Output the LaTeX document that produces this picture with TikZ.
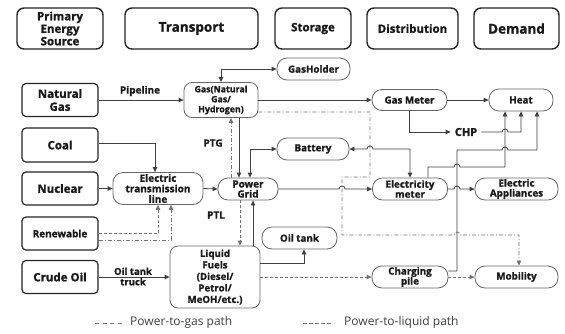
\documentclass[tikz,border=0pt]{standalone}
\usepackage{fontspec}
\setmainfont{Open Sans}[BoldFeatures={FakeBold=1.2}]
\usetikzlibrary{arrows.meta,calc}
\begin{document}
\begin{tikzpicture}[x=1pt,y=-1pt,
  >={Triangle[length=5pt,width=4.5pt]},
  every node/.style={font=\bfseries, text=black!90, align=center, inner sep=0pt},
  hdr/.style={draw=black!85, line width=1.4pt, rounded corners=7pt, minimum height=41pt, font=\bfseries\fontsize{11.5}{12.5}\selectfont},
  src/.style={draw=black!85, line width=1.2pt, rounded corners=4pt, minimum width=76pt, minimum height=33pt, font=\bfseries\fontsize{11.5}{13}\selectfont},
  pill/.style={draw=black!60, line width=0.8pt, rounded corners=10pt, minimum height=22pt, font=\bfseries\fontsize{9.8}{10}\selectfont},
  bigpill/.style={draw=black!60, line width=0.8pt, rounded corners=8pt},
  conn/.style={draw=black!75, line width=0.8pt},
  ptl/.style={draw=black!55, line width=0.8pt, dash pattern=on 3pt off 2pt},
  ptg/.style={draw=black!55, line width=0.8pt, dash pattern=on 4pt off 2pt on 1pt off 2pt},
  lbl/.style={font=\bfseries\fontsize{10}{11}\selectfont}
]
\fill[white] (0,0) rectangle (565,333);
\useasboundingbox (0,0) rectangle (565,333);

% headers
\node[hdr, minimum width=86pt] (h1) at (60,28.5) {Primary\\Energy\\Source};
\node[hdr, minimum width=133pt, font=\bfseries\fontsize{13.5}{14}\selectfont] (h2) at (191.5,28.5) {Transport};
\node[hdr, minimum width=76pt] (h3) at (313,28.5) {Storage};
\node[hdr, minimum width=91pt] (h4) at (412.5,28.5) {Distribution};
\node[hdr, minimum width=85pt, font=\bfseries\fontsize{13.5}{14}\selectfont] (h5) at (516.5,28.5) {Demand};

% sources
\node[src] (ng) at (60,100) {Natural\\Gas};
\node[src, minimum height=34pt] (coal) at (60,145) {Coal};
\node[src] (nuc) at (60,188.5) {Nuclear};
\node[src, font=\bfseries\fontsize{10}{11}\selectfont] (ren) at (60,233.5) {Renewable};
\node[src] (crude) at (60,277) {Crude Oil};

% middle nodes
\node[bigpill, minimum width=74pt, minimum height=35pt, font=\bfseries\fontsize{8.8}{10}\selectfont] (gas) at (221,100) {Gas(Natural\\Gas/\\Hydrogen)};
\node[pill, minimum width=73pt] (gh) at (313.5,69) {GasHolder};
\node[pill, minimum width=75pt, minimum height=21pt] (gm) at (409.5,100) {Gas Meter};
\node[pill, minimum width=64pt] (heat) at (521,100) {Heat};
\node[lbl, font=\bfseries\fontsize{11}{12}\selectfont, inner xsep=4pt] (chp) at (466,132) {CHP};
\node[pill, minimum width=72pt] (bat) at (313,149) {Battery};
\node[bigpill, minimum width=90pt, minimum height=32pt, rounded corners=10pt, font=\bfseries\fontsize{10}{10.5}\selectfont] (tl) at (158,188.5) {Electric\\transmission\\line};
\node[pill, minimum width=60pt, font=\bfseries\fontsize{10}{10}\selectfont] (grid) at (248,189) {Power\\Grid};
\node[pill, minimum width=75pt] (em) at (410,189) {Electricity\\meter};
\node[pill, minimum width=83pt] (ea) at (516.5,189) {Electric\\Appliances};
\node[pill, minimum width=75pt] (ot) at (299.5,238) {Oil tank};
\node[bigpill, minimum width=90pt, minimum height=62pt, font=\bfseries\fontsize{9.7}{11.5}\selectfont] (liq) at (215,277) {Liquid\\Fuels\\(Diesel/\\Petrol/\\MeOH/etc.)};
\node[pill, minimum width=76pt] (cp) at (410,277) {Charging\\pile};
\node[pill, minimum width=83pt] (mob) at (516.5,277) {Mobility};

% labels
\node[lbl] (pipe) at (140,91) {Pipeline};
\node[lbl] (ptglbl) at (213,143) {PTG};
\node[lbl] (ptllbl) at (216,215) {PTL};
\node[lbl, font=\bfseries\fontsize{9.5}{10.5}\selectfont] (truck) at (133,276.5) {Oil tank\\truck};

% solid connectors
\draw[conn,->] (ng) -- (gas);
\draw[conn,<->] (gas.north) |- (gh.west);
\draw[conn,->] (gas) -- (gm);
\draw[conn,->] (gm) -- (heat);
\draw[conn,->] (gm.south) |- (chp.west);
\draw[conn,->] (chp.east) -- (502,132) arc[start angle=180,end angle=0,radius=3pt] -- (521,132) -- (heat.south);
\draw[conn,->] ([xshift=18pt]em.north) -- (428,167) -- (454,167) arc[start angle=180,end angle=0,radius=3pt] -- (505,167) -- ([xshift=-16pt]heat.south);
\draw[conn,->] ([yshift=6pt]cp.east) -- (457,271) -- (457,150) -- (502,150) arc[start angle=180,end angle=0,radius=3pt] -- (537,150) -- ([xshift=16pt]heat.south);
\draw[conn,->] (em.east) -- (454,189) arc[start angle=180,end angle=0,radius=3pt] -- (ea.west);
\draw[conn,<->] (bat.east) -- (367,149) arc[start angle=180,end angle=0,radius=3pt] -- (410,149) -- (em.north);
\draw[conn,<->] ([xshift=2pt]grid.north) |- (bat.west);
\draw[conn,->] ([xshift=18pt]gas.south) -- ([xshift=-9pt]grid.north);
\draw[conn,->] (tl.east) -- (grid.west);
\draw[conn,->] (nuc) -- (tl);
\draw[conn,->] ([yshift=2pt]coal.east) -| ([xshift=-3pt]tl.north);
\draw[conn,->] (grid.east) -- (339,189) arc[start angle=180,end angle=0,radius=3pt] -- (em.west);
\draw[conn,->] ([xshift=38pt]liq.north) -- ([xshift=5pt]grid.south);
\draw[conn,->] ([yshift=14pt]liq.east) -| ([xshift=4.5pt]ot.south);
\draw[conn,->] (crude) -- (liq);

% power-to-liquid (dashed)
\draw[ptl,->] (ren.east) -| (tl.south);
\draw[ptl,->] ([xshift=-8pt]grid.south) -- ([xshift=25pt]liq.north);
\draw[ptl,->] (liq.east) -- (cp.west);
\draw[ptl,->] (cp) -- (mob);

% power-to-gas (dash-dot)
\draw[ptg,->] ([yshift=-6.5pt]ren.east) -| ([xshift=13pt]tl.south);
\draw[ptg,->] ([xshift=-17pt]grid.north) -- ([xshift=10pt]gas.south);
\draw[ptg,->] ([yshift=-12pt]gas.east) -- (370,112) -- (370,177) -- (342,177) -- (342,235) -- (454,235) arc[start angle=180,end angle=0,radius=3pt] -- (519,235) -- ([xshift=2.5pt]mob.north);

% legend
\draw[draw=black!55, line width=0.8pt, dash pattern=on 4pt off 3.5pt] (95,323) coordinate (la1) -- (123,323) coordinate (la2);
\node[anchor=west, font=\fontsize{12}{13}\selectfont, text=black!75] (leg1) at (130,322) {Power-to-gas path};
\draw[draw=black!55, line width=0.8pt, dash pattern=on 4pt off 2pt] (303,323) coordinate (lb1) -- (331,323) coordinate (lb2);
\node[anchor=west, font=\fontsize{12}{13}\selectfont, text=black!75] (leg2) at (344,322) {Power-to-liquid path};
\end{tikzpicture}
\end{document}
